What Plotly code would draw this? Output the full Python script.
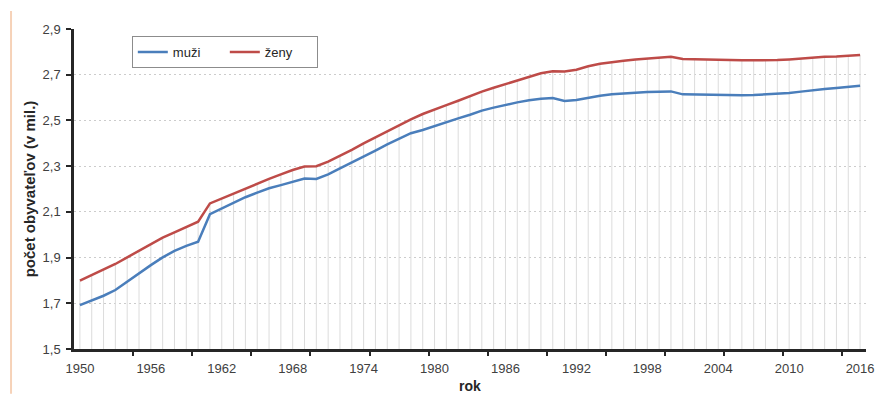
import plotly.graph_objects as go

years = list(range(1950, 2017))

muzi = [1.692, 1.713, 1.733, 1.758, 1.795, 1.831, 1.867, 1.901, 1.929, 1.951,
        1.969, 2.090, 2.115, 2.140, 2.164, 2.184, 2.203, 2.217, 2.232, 2.246,
        2.244, 2.264, 2.290, 2.315, 2.341, 2.368, 2.395, 2.420, 2.444, 2.458,
        2.476, 2.493, 2.509, 2.525, 2.543, 2.556, 2.569, 2.579, 2.588, 2.595,
        2.598, 2.585, 2.589, 2.600, 2.608, 2.614, 2.619, 2.621, 2.624, 2.626,
        2.627, 2.614, 2.613, 2.611, 2.610, 2.610, 2.610, 2.611, 2.613, 2.616,
        2.620, 2.626, 2.633, 2.637, 2.642, 2.646, 2.652]

zeny = [1.799, 1.824, 1.849, 1.872, 1.901, 1.930, 1.959, 1.987, 2.010, 2.032,
        2.057, 2.137, 2.159, 2.181, 2.203, 2.225, 2.244, 2.264, 2.283, 2.298,
        2.300, 2.320, 2.344, 2.371, 2.400, 2.426, 2.455, 2.480, 2.505, 2.528,
        2.549, 2.567, 2.586, 2.607, 2.626, 2.643, 2.659, 2.677, 2.691, 2.706,
        2.715, 2.714, 2.722, 2.737, 2.748, 2.756, 2.761, 2.767, 2.772, 2.775,
        2.779, 2.769, 2.767, 2.766, 2.764, 2.764, 2.763, 2.763, 2.763, 2.764,
        2.767, 2.772, 2.776, 2.779, 2.780, 2.783, 2.786]

x_labels = list(range(1950, 2017, 6))
y_ticks = [1.5, 1.7, 1.9, 2.1, 2.3, 2.5, 2.7, 2.9]

y_min = 1.5
y_max = 2.9

# drop lines from the highest series down to the axis
drop_x, drop_y = [], []
for yr, a, b in zip(years, muzi, zeny):
    drop_x += [yr, yr, None]
    drop_y += [y_min, max(a, b), None]

fig = go.Figure()
fig.add_trace(go.Scatter(x=drop_x, y=drop_y, mode="lines",
                         line=dict(color="#dcdcdc", width=1),
                         showlegend=False, hoverinfo="skip"))
fig.add_trace(go.Scatter(x=years, y=muzi, mode="lines", name="muži",
                         line=dict(color="#4a7ebb", width=2.5)))
fig.add_trace(go.Scatter(x=years, y=zeny, mode="lines", name="ženy",
                         line=dict(color="#be4b48", width=2.5)))

font_color = "#404040"
fig.update_layout(
    width=877, height=396,
    margin=dict(l=74, r=11, t=29, b=47),
    paper_bgcolor="white", plot_bgcolor="white",
    separators=", ",
    font=dict(family="Liberation Sans, Arial", size=13, color=font_color),
    showlegend=True,
    legend=dict(orientation="h", x=0.073, y=0.978, xanchor="left", yanchor="top",
                bordercolor="#8c8c8c", borderwidth=1, bgcolor="white",
                font=dict(size=13, color="#262626"), itemwidth=30,
                entrywidth=47, entrywidthmode="pixels",
                tracegroupgap=0),
    xaxis=dict(range=[1949.5, 2016.5], tickmode="array", tickvals=x_labels,
               ticks="", showgrid=False, zeroline=False, automargin=False,
               showline=True, linecolor="#262626", linewidth=2.5,
               ticklabelstandoff=6, tickfont=dict(size=13, color=font_color),
               minor=dict(tickmode="array", tickvals=[1954.5 + 5 * k for k in range(13)],
                          ticks="outside", ticklen=4, tickwidth=2, tickcolor="#262626",
                          showgrid=False),
               title=dict(text="<b>rok</b>", font=dict(size=14, color="#262626"), standoff=6)),
    yaxis=dict(range=[y_min, y_max], tickmode="array", tickvals=y_ticks,
               tickformat=".1f", ticks="outside", ticklen=5, tickwidth=2, automargin=False,
               tickcolor="#262626", showline=True, linecolor="#262626", linewidth=2.5,
               showgrid=True, gridcolor="#cccccc", griddash="2px,3px", gridwidth=1,
               zeroline=False, ticklabelstandoff=3, tickfont=dict(size=13, color=font_color),
               title=dict(text="<b>počet obyvateľov (v mil.)</b>",
                          font=dict(size=15, color="#262626"), standoff=4)),
    shapes=[dict(type="line", xref="paper", yref="paper",
                 x0=-0.0795, x1=-0.0795, y0=1.056, y1=-0.14,
                 line=dict(color="#f6d2b8", width=2))],
)

fig.write_html("out.html")
